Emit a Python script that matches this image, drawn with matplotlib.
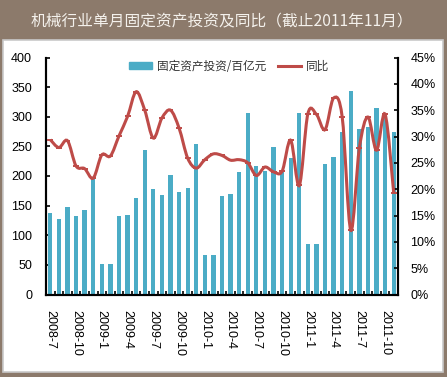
import numpy as np
import matplotlib
matplotlib.use("Agg")
import matplotlib.pyplot as plt
from matplotlib.patches import Rectangle, PathPatch
from matplotlib.path import Path
from matplotlib.lines import Line2D

plt.rcParams['font.family'] = ['Noto Sans CJK SC', 'DejaVu Sans']

# ---------------- data ----------------
months = [
    "2008-7", "2008-8", "2008-9", "2008-10", "2008-11", "2008-12",
    "2009-1", "2009-2", "2009-3", "2009-4", "2009-5", "2009-6",
    "2009-7", "2009-8", "2009-9", "2009-10", "2009-11", "2009-12",
    "2010-1", "2010-2", "2010-3", "2010-4", "2010-5", "2010-6",
    "2010-7", "2010-8", "2010-9", "2010-10", "2010-11", "2010-12",
    "2011-1", "2011-2", "2011-3", "2011-4", "2011-5", "2011-6",
    "2011-7", "2011-8", "2011-9", "2011-10", "2011-11",
]
# 固定资产投资 (百亿元)
invest = [
    137, 128, 148, 133, 143, 197,
    52, 52, 133, 135, 163, 244,
    178, 168, 202, 173, 180, 254,
    66, 66, 167, 169, 206, 306,
    217, 209, 249, 207, 231, 306,
    86, 86, 220, 232, 275, 343,
    279, 282, 315, 300, 275,
]
# 同比 (%)
yoy = [
    29.4, 27.9, 29.2, 24.4, 23.9, 22.1,
    26.5, 26.3, 30.1, 33.8, 38.5, 35.0,
    29.7, 33.5, 35.0, 31.6, 25.9, 24.0,
    25.6, 26.7, 26.4, 25.5, 25.6, 25.0,
    22.6, 24.2, 23.3, 23.4, 29.3, 20.7,
    34.3, 34.2, 31.3, 37.3, 33.7, 12.2,
    27.8, 33.7, 27.4, 34.2, 19.3,
]

left_ticks = [0, 50, 100, 150, 200, 250, 300, 350, 400]
right_ticks = [0, 5, 10, 15, 20, 25, 30, 35, 40, 45]

bar_color = "#4BACC6"
line_color = "#BE4B48"
bg_color = "#8C7A6B"

fig = plt.figure(figsize=(4.47, 3.77), dpi=100, facecolor=bg_color)

# white inner panel
fig.patches.append(Rectangle((3 / 447, 5 / 377), 440 / 447, 332 / 377,
                             transform=fig.transFigure, facecolor="white",
                             edgecolor="#C9C9C9", lw=1.2, zorder=-10))

fig.text(0.497, 0.942, "机械行业单月固定资产投资及同比（截止2011年11月）",
         color="#F4F1EC", fontsize=11.3, ha="center", va="center",
         weight="medium")

ax = fig.add_axes([46 / 447, 1 - 294.5 / 377, 352 / 447, 237 / 377])
ax.patch.set_alpha(0)
x = np.arange(len(months))
ax.bar(x, invest, width=0.5, color=bar_color, zorder=2)
ax.set_xlim(-0.5, len(months) - 0.5)
ax.set_ylim(0, 400)
ax.set_yticks(left_ticks)

ax2 = ax.twinx()
ax2.set_ylim(0, 45)
ax2.set_yticks(right_ticks)
ax2.set_yticklabels([f"{t}%" for t in right_ticks])

# smoothed line (Bezier through the data points, like Excel's smoothed line)
pts = np.column_stack([x, yoy]).astype(float)
verts = [pts[0]]
codes = [Path.MOVETO]
n = len(pts)
for i in range(n - 1):
    p0 = pts[max(i - 1, 0)]
    p1 = pts[i]
    p2 = pts[i + 1]
    p3 = pts[min(i + 2, n - 1)]
    c1 = p1 + (p2 - p0) / 6
    c2 = p2 - (p3 - p1) / 6
    verts += [c1, c2, p2]
    codes += [Path.CURVE4] * 3
ax2.add_patch(PathPatch(Path(verts, codes), facecolor="none",
                        edgecolor=line_color, lw=2.2, zorder=3))
ax2.plot(x, yoy, ls="none", marker="_", ms=5, mew=1.4, color=line_color, zorder=4)

for a in (ax, ax2):
    a.spines["top"].set_visible(False)
    for s in ("left", "right", "bottom"):
        a.spines[s].set_linewidth(1.5)
        a.spines[s].set_color("black")

ax.tick_params(axis="y", direction="in", length=3, width=1.2, pad=10,
               labelsize=9, colors="black")
ax2.tick_params(axis="y", direction="in", length=3, width=1.2, pad=9,
                labelsize=9, colors="black")
for lab in ax.get_yticklabels() + ax2.get_yticklabels():
    lab.set_family(["Liberation Sans", "DejaVu Sans"])

# category axis: ticks at boundaries, labels every 3 months
ax.set_xticks(x[::3])
ax.set_xticklabels(months[::3], rotation=-90, fontsize=9,
                   family=["Liberation Sans", "DejaVu Sans"])
ax.set_xticks(np.arange(-0.5, len(months), 1), minor=True)
ax.tick_params(axis="x", which="major", length=0, pad=11)
ax.tick_params(axis="x", which="minor", direction="in", length=3, width=1.2)

handles = [Rectangle((0, 0), 1, 1, color=bar_color),
           Line2D([], [], color=line_color, lw=2.2, marker="_", ms=5)]
ax2.legend(handles, ["固定资产投资/百亿元", "同比"], loc="upper center",
           bbox_to_anchor=(0.52, 1.035), ncol=2, frameon=False,
           fontsize=8.4, handlelength=2.0, handleheight=0.5,
           columnspacing=1.0, handletextpad=0.4, labelcolor="#333333")

fig.savefig("out.png", dpi=100, facecolor=bg_color)
